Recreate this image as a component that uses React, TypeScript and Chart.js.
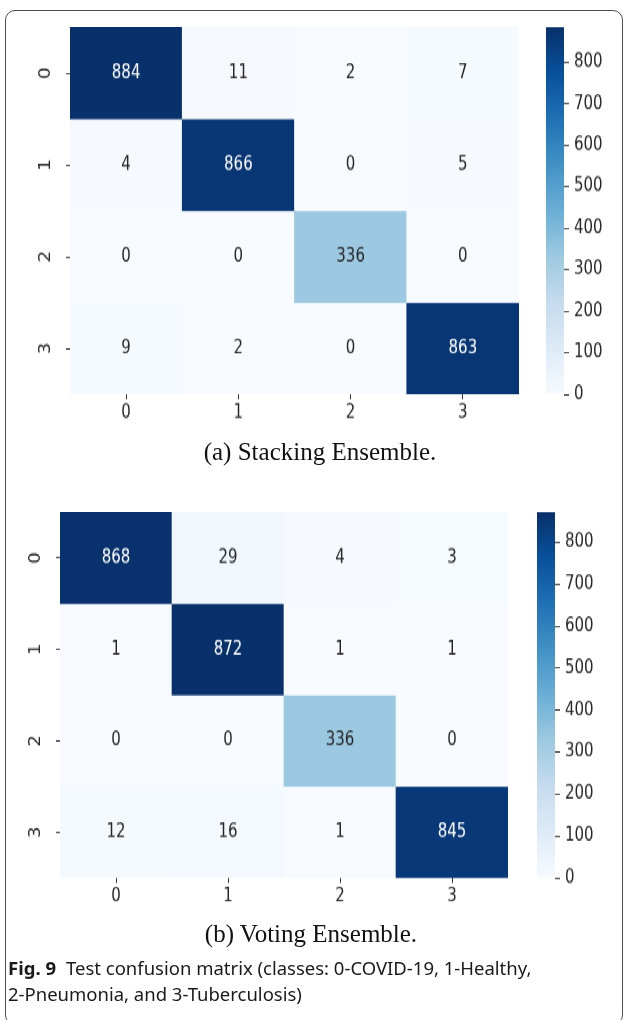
import React, { useEffect, useRef } from "react";
import { Chart, registerables } from "chart.js";

Chart.register(...registerables);

// ---- data ----
const classLabels = ["0", "1", "2", "3"];

const stackingMatrix: number[][] = [
  [884, 11, 2, 7],
  [4, 866, 0, 5],
  [0, 0, 336, 0],
  [9, 2, 0, 863],
];

const votingMatrix: number[][] = [
  [868, 29, 4, 3],
  [1, 872, 1, 1],
  [0, 0, 336, 0],
  [12, 16, 1, 845],
];

const colorbarTicks = [0, 100, 200, 300, 400, 500, 600, 700, 800];

// matplotlib "Blues" colormap anchor colours
const BLUES = [
  "#f7fbff",
  "#deebf7",
  "#c6dbef",
  "#9ecae1",
  "#6baed6",
  "#4292c6",
  "#2171b5",
  "#08519c",
  "#08306b",
];

// the plotted graphics are vertically stretched in the figure
const STRETCH = 1.24;
const FONT = { family: "'DejaVu Sans', sans-serif", size: 15 };
const INK = "#262626";

function hexToRgb(h: string): number[] {
  const n = parseInt(h.slice(1), 16);
  return [(n >> 16) & 255, (n >> 8) & 255, n & 255];
}

function bluesRgb(t: number): number[] {
  const x = Math.max(0, Math.min(1, t)) * (BLUES.length - 1);
  const i = Math.min(Math.floor(x), BLUES.length - 2);
  const f = x - i;
  const a = hexToRgb(BLUES[i]);
  const b = hexToRgb(BLUES[i + 1]);
  return a.map((v, k) => Math.round(v + (b[k] - v) * f));
}

function rgbStr(c: number[]): string {
  return `rgb(${c[0]},${c[1]},${c[2]})`;
}

function luminance(c: number[]): number {
  const lin = c.map((v) => {
    const s = v / 255;
    return s <= 0.03928 ? s / 12.92 : Math.pow((s + 0.055) / 1.055, 2.4);
  });
  return lin[0] * 0.2126 + lin[1] * 0.7152 + lin[2] * 0.0722;
}

// writes each count in the middle of its cell
const cellLabelPlugin = {
  id: "cellLabels",
  afterDatasetsDraw(chart: any, _args: any, opts: any) {
    const { ctx } = chart;
    const matrix: number[][] = opts.matrix;
    const { vmin, vmax } = opts;
    ctx.save();
    ctx.font = `${FONT.size}px ${FONT.family}`;
    ctx.textAlign = "center";
    ctx.textBaseline = "middle";
    matrix.forEach((row, r) => {
      const meta = chart.getDatasetMeta(r);
      row.forEach((v, c) => {
        const el = meta.data[c];
        if (!el) return;
        const { x, y, base } = el.getProps(["x", "y", "base"], true);
        const col = bluesRgb((v - vmin) / (vmax - vmin));
        ctx.fillStyle = luminance(col) > 0.408 ? INK : "#ffffff";
        ctx.fillText(String(v), x, (y + base) / 2);
      });
    });
    ctx.restore();
  },
};

const AXIS_W = 40;
const AXIS_H = 30;

function heatmapConfig(matrix: number[][]): any {
  const flat = matrix.flat();
  const vmin = Math.min(...flat);
  const vmax = Math.max(...flat);
  const tickGrid = {
    display: true,
    offset: false,
    drawOnChartArea: false,
    drawTicks: true,
    tickLength: 4,
    color: "#333333",
    lineWidth: 1,
  };
  return {
    type: "bar",
    data: {
      labels: classLabels,
      datasets: matrix.map((row, r) => ({
        data: row.map(() => [r - 0.5, r + 0.5]),
        backgroundColor: row.map((v) => rgbStr(bluesRgb((v - vmin) / (vmax - vmin)))),
        borderWidth: 0,
        grouped: false,
        barPercentage: 1,
        categoryPercentage: 1,
      })),
    },
    plugins: [cellLabelPlugin],
    options: {
      responsive: false,
      animation: false,
      events: [],
      layout: { padding: 0 },
      plugins: {
        legend: { display: false },
        tooltip: { enabled: false },
        cellLabels: { matrix, vmin, vmax },
      },
      scales: {
        x: {
          type: "category",
          offset: true,
          grid: tickGrid,
          border: { display: false },
          ticks: { font: FONT, color: INK, padding: 2, maxRotation: 0, autoSkip: false },
          afterFit: (s: any) => {
            s.height = AXIS_H;
            s.paddingLeft = 0;
            s.paddingRight = 0;
          },
        },
        y: {
          type: "linear",
          reverse: true,
          min: -0.5,
          max: classLabels.length - 0.5,
          afterBuildTicks: (s: any) => {
            s.ticks = classLabels.map((_, i) => ({ value: i }));
          },
          grid: tickGrid,
          border: { display: false },
          ticks: {
            font: FONT,
            color: INK,
            padding: 15,
            minRotation: 90,
            maxRotation: 90,
            crossAlign: "center",
            callback: (v: any) => classLabels[Math.round(Number(v))],
          },
          afterFit: (s: any) => {
            s.width = AXIS_W;
            s.paddingTop = 0;
            s.paddingBottom = 0;
          },
        },
      },
    },
  };
}

function colorbarConfig(matrix: number[][]): any {
  const flat = matrix.flat();
  const vmin = Math.min(...flat);
  const vmax = Math.max(...flat);
  return {
    type: "bar",
    data: {
      labels: [""],
      datasets: [
        {
          data: [[vmin, vmax]],
          backgroundColor: (context: any) => {
            const { chart } = context;
            const area = chart.chartArea;
            if (!area) return BLUES[0];
            const g = chart.ctx.createLinearGradient(0, area.bottom, 0, area.top);
            BLUES.forEach((c, i) => g.addColorStop(i / (BLUES.length - 1), c));
            return g;
          },
          borderWidth: 0,
          barPercentage: 1,
          categoryPercentage: 1,
        },
      ],
    },
    options: {
      responsive: false,
      animation: false,
      events: [],
      layout: { padding: { top: 12, bottom: 12, left: 0, right: 0 } },
      plugins: { legend: { display: false }, tooltip: { enabled: false } },
      scales: {
        x: { display: false },
        y: {
          position: "right",
          min: vmin,
          max: vmax,
          afterBuildTicks: (s: any) => {
            s.ticks = colorbarTicks.map((v) => ({ value: v }));
          },
          grid: {
            display: true,
            drawOnChartArea: false,
            drawTicks: true,
            tickLength: 5,
            color: "#333333",
            lineWidth: 1,
          },
          border: { display: false },
          ticks: { font: FONT, color: INK, padding: 5 },
          afterFit: (s: any) => {
            s.width = 50;
            s.paddingTop = 0;
            s.paddingBottom = 0;
          },
        },
      },
    },
  };
}

type CanvasProps = {
  make: () => any;
  left: number;
  top: number;
  width: number;
  height: number;
};

function ChartCanvas({ make, left, top, width, height }: CanvasProps) {
  const ref = useRef<HTMLCanvasElement>(null);
  useEffect(() => {
    if (!ref.current) return;
    const chart = new Chart(ref.current, make());
    return () => chart.destroy();
  }, []);
  return (
    <canvas
      ref={ref}
      width={width}
      height={height}
      style={{ position: "absolute", left, top, width, height }}
    />
  );
}

const captionStyle: React.CSSProperties = {
  position: "absolute",
  width: 400,
  textAlign: "center",
  fontFamily: "'Liberation Serif', serif",
  fontSize: 25,
  lineHeight: "30px",
  color: "#111111",
  whiteSpace: "nowrap",
};

export default function App() {
  return (
    <div
      style={{
        position: "absolute",
        left: 0,
        top: 0,
        width: 624,
        height: 1020,
        background: "#ffffff",
        overflow: "hidden",
      }}
    >
      <div
        style={{
          position: "absolute",
          left: 5,
          top: 10,
          width: 618,
          height: 1015,
          boxSizing: "border-box",
          border: "1px solid #4d4d4d",
          borderRadius: 10,
        }}
      />
      <div
        style={{
          position: "absolute",
          left: 0,
          top: 0,
          width: 624,
          height: 1020 / STRETCH,
          transform: `scaleY(${STRETCH})`,
          transformOrigin: "0 0",
        }}
      >
        <ChartCanvas make={() => heatmapConfig(stackingMatrix)} left={30} top={22} width={489} height={296 + AXIS_H} />
        <ChartCanvas make={() => colorbarConfig(stackingMatrix)} left={546} top={10} width={68} height={320} />
        <ChartCanvas make={() => heatmapConfig(votingMatrix)} left={20} top={413} width={488} height={295 + AXIS_H} />
        <ChartCanvas make={() => colorbarConfig(votingMatrix)} left={537} top={401} width={68} height={319} />
      </div>
      <div style={{ ...captionStyle, left: 120, top: 437 }}>(a) Stacking Ensemble.</div>
      <div style={{ ...captionStyle, left: 111, top: 919 }}>(b) Voting Ensemble.</div>
      <div
        style={{
          position: "absolute",
          left: 8,
          top: 955,
          fontFamily: "'Noto Sans', sans-serif",
          fontSize: 18.5,
          lineHeight: "26px",
          color: "#1a1a1a",
          whiteSpace: "nowrap",
        }}
      >
        <span style={{ fontWeight: 700, marginRight: 10 }}>Fig. 9</span>
        Test confusion matrix (classes: 0-COVID-19, 1-Healthy,
        <br />
        2-Pneumonia, and 3-Tuberculosis)
      </div>
    </div>
  );
}
